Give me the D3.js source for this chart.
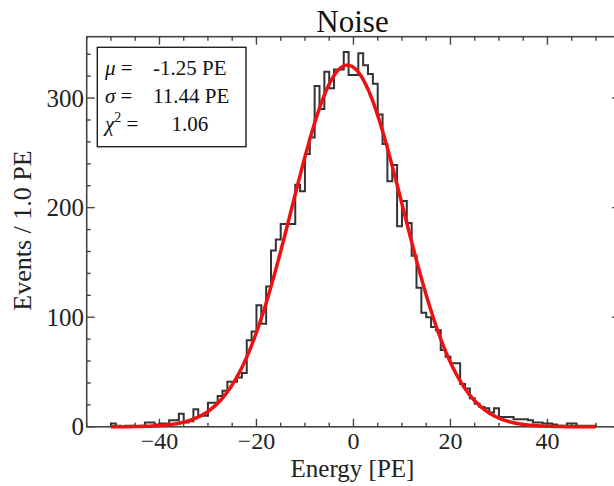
<!DOCTYPE html>
<html><head><meta charset="utf-8">
<script src="https://cdn.jsdelivr.net/npm/d3@7"></script>
<style>
html,body{margin:0;padding:0;background:#fff;}
svg{display:block;font-family:"Liberation Serif","DejaVu Serif",serif;}
</style></head>
<body>
<script>
// ---- data ----
const title = "Noise";
const xLabel = "Energy [PE]";
const yLabel = "Events / 1.0 PE";
const binLow = -50;      // first bin lower edge
const binWidth = 1.0;    // PE
const counts = [
  3, 1, 0, 1, 1, 0, 1, 4, 4, 2,          // -50 .. -41
  3, 3, 6, 6, 12, 4, 5, 16, 10, 10,      // -40 .. -31
  22, 22, 28, 33, 41, 41, 45, 49, 79, 87, // -30 .. -21
  111, 94, 128, 161, 171, 185, 185, 185, 221, 215, // -20 .. -11
  249, 264, 311, 290, 324, 309, 326, 326, 342, 321, // -10 .. -1
  321, 341, 330, 322, 313, 285, 258, 224, 239, 183, // 0 .. 9
  206, 186, 156, 127, 104, 100, 91, 88, 70, 64,     // 10 .. 19
  58, 58, 39, 35, 26, 21, 18, 17, 13, 17,           // 20 .. 29
  9, 9, 9, 7, 7, 7, 6, 4, 4, 3,                     // 30 .. 39
  3, 2, 1, 1, 3, 3, 1, 1, 1, 1                      // 40 .. 49
];
const fitMu = -1.25, fitSigma = 11.44, fitAmp = 330;
const legendNames = ["μ", "σ", "χ"];
const legendValues = ["-1.25 PE", "11.44 PE", "1.06"];
const xTicksMajor = [-40, -20, 0, 20, 40];
const yTicksMajor = [0, 100, 200, 300];

// ---- layout ----
const W = 614, H = 486;
const mLeft = 86.7, mTop = 36.7, mBottom = 426.8, mRight = 620.2;
const svg = d3.select("body").append("svg").attr("width", W).attr("height", H);

const x = d3.scaleLinear().domain([-55, 55]).range([mLeft, mRight]);
const y = d3.scaleLinear().domain([0, 356]).range([mBottom, mTop]);

const axisCol = "#444";
// frame
svg.append("rect").attr("x", mLeft).attr("y", mTop)
  .attr("width", mRight - mLeft).attr("height", mBottom - mTop)
  .attr("fill", "none").attr("stroke", axisCol).attr("stroke-width", 1.6);

// ticks
const tg = svg.append("g").attr("stroke", axisCol).attr("stroke-width", 1.4);
const xMinor = d3.range(-55, 56, 5);
xMinor.forEach(v => {
  const len = (v % 20 === 0) ? 8 : 4;
  tg.append("line").attr("x1", x(v)).attr("x2", x(v)).attr("y1", mBottom).attr("y2", mBottom - len);
  tg.append("line").attr("x1", x(v)).attr("x2", x(v)).attr("y1", mTop).attr("y2", mTop + len);
});
const yMinor = d3.range(0, 357, 20);
yMinor.forEach(v => {
  const len = (v % 100 === 0) ? 8 : 4;
  tg.append("line").attr("y1", y(v)).attr("y2", y(v)).attr("x1", mLeft).attr("x2", mLeft + len);
  tg.append("line").attr("y1", y(v)).attr("y2", y(v)).attr("x1", mRight).attr("x2", mRight - len);
});

// tick labels
const fmt = d3.format("d");
svg.append("g").selectAll("text").data(xTicksMajor).join("text")
  .attr("x", d => x(d)).attr("y", 449).attr("text-anchor", "middle")
  .attr("font-size", 24).attr("fill", "#222")
  .text(d => d < 0 ? "\u2212" + Math.abs(d) : fmt(d));
svg.append("g").selectAll("text").data(yTicksMajor).join("text")
  .attr("x", 84).attr("y", d => y(d) + 8.5).attr("text-anchor", "end")
  .attr("font-size", 25).attr("fill", "#222")
  .text(d => fmt(d));

// axis labels and title
svg.append("text").attr("x", 352.5).attr("y", 477).attr("text-anchor", "middle")
  .attr("font-size", 25).attr("fill", "#222").text(xLabel);
svg.append("text").attr("transform", "translate(31,230.5) rotate(-90)")
  .attr("text-anchor", "middle").attr("font-size", 26).attr("fill", "#222").text(yLabel);
svg.append("text").attr("x", 352.5).attr("y", 32).attr("text-anchor", "middle")
  .attr("font-size", 31).attr("fill", "#111").text(title);

// histogram outline
const pts = [[binLow, 0]];
counts.forEach((c, i) => {
  const a = binLow + i * binWidth, b = a + binWidth;
  pts.push([a, c]); pts.push([b, c]);
});
pts.push([binLow + counts.length * binWidth, 0]);
svg.append("path").datum(pts)
  .attr("d", d3.line().x(d => x(d[0])).y(d => y(d[1])))
  .attr("fill", "none").attr("stroke", "#333").attr("stroke-width", 2);

// fit curve
const fitX = d3.range(binLow, binLow + counts.length * binWidth + 0.001, 0.25);
const fitPts = fitX.map(v => [v, fitAmp * Math.exp(-0.5 * Math.pow((v - fitMu) / fitSigma, 2))]);
svg.append("path").datum(fitPts)
  .attr("d", d3.line().x(d => x(d[0])).y(d => y(d[1])).curve(d3.curveBasis))
  .attr("fill", "none").attr("stroke", "#ee1111").attr("stroke-width", 3.5)
  .attr("stroke-linejoin", "round");

// legend box
svg.append("rect").attr("x", 97.3).attr("y", 47.3).attr("width", 148.7).attr("height", 99.4)
  .attr("fill", "#fff").attr("stroke", "#222").attr("stroke-width", 1.4);
const lg = svg.append("g").attr("font-size", 21).attr("fill", "#111");
const baselines = [75, 103, 130.5];
const valueX = [153, 153, 171.5];
legendNames.forEach((n, i) => {
  const t = lg.append("text").attr("x", 105).attr("y", baselines[i]);
  t.append("tspan").attr("font-style", "italic").text(n);
  if (i === 2) t.append("tspan").attr("font-size", 14).attr("dy", -9).text("2");
  t.append("tspan").attr("dy", i === 2 ? 9 : 0).text(" =");
  lg.append("text").attr("x", valueX[i]).attr("y", baselines[i]).text(legendValues[i]);
});
</script>
</body></html>
